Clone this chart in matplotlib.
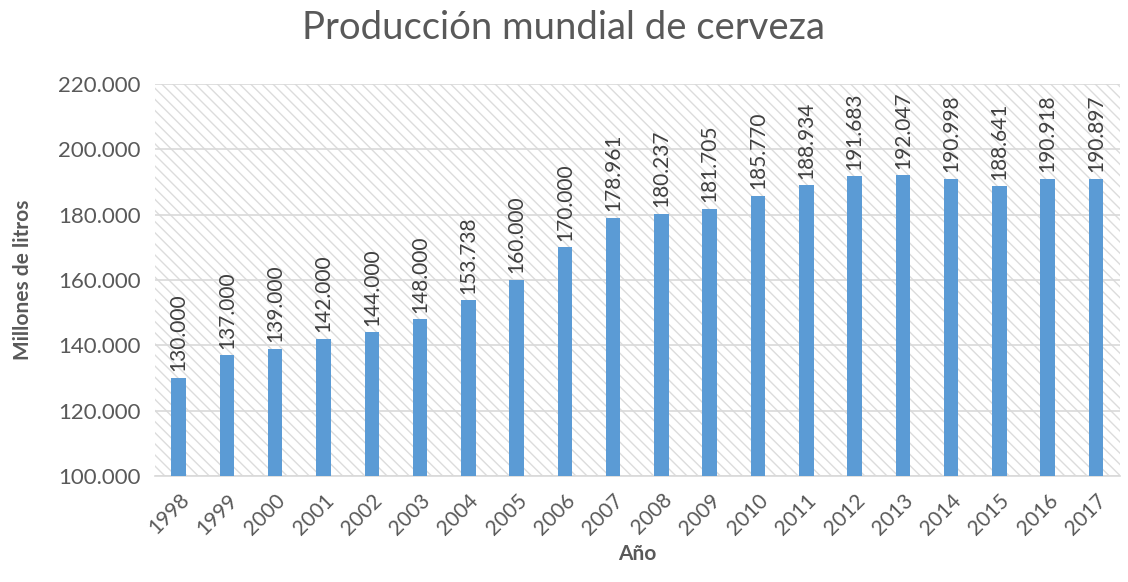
import numpy as np
import matplotlib.pyplot as plt
from matplotlib.patches import Rectangle

years = [str(y) for y in range(1998, 2018)]
values = [130000, 137000, 139000, 142000, 144000, 148000, 153738, 160000, 170000,
          178961, 180237, 181705, 185770, 188934, 191683, 192047, 190998, 188641,
          190918, 190897]
labels = ["130.000", "137.000", "139.000", "142.000", "144.000", "148.000", "153.738",
          "160.000", "170.000", "178.961", "180.237", "181.705", "185.770", "188.934",
          "191.683", "192.047", "190.998", "188.641", "190.918", "190.897"]
yticks = [100000, 120000, 140000, 160000, 180000, 200000, 220000]

plt.rcParams['font.family'] = ['Lato', 'DejaVu Sans']
plt.rcParams['hatch.linewidth'] = 1.0
txt = '#595959'

fig = plt.figure(figsize=(11.28, 5.82), dpi=100)
ax = fig.add_axes([0.137, 0.182, 0.856, 0.674])

# hatched plot background
ax.add_patch(Rectangle((0, 0), 1, 1, transform=ax.transAxes, facecolor='white',
                       edgecolor='#dcdcdc', linewidth=0, hatch='\\\\\\', zorder=0))

x = np.arange(len(years))
ax.bar(x, values, width=0.3, color='#5B9BD5', zorder=3)
for xi, v, lab in zip(x, values, labels):
    ax.text(xi, v + 2000, lab, rotation=90, ha='center', va='bottom',
            fontsize=15, color='#404040', zorder=4)

ax.set_ylim(100000, 220000)
ax.set_xlim(-0.5, len(years) - 0.5)
ax.set_yticks(yticks)
ax.set_yticklabels([f"{t // 1000}.000" for t in yticks], fontsize=16, color=txt)
ax.set_xticks(x)
ax.set_xticklabels(years, rotation=45, ha='right', rotation_mode='anchor',
                   fontsize=15, color=txt)
ax.tick_params(length=0, pad=10)
ax.grid(axis='y', color='#d9d9d9', linewidth=1.2, zorder=1)
for s in ['top', 'right', 'left']:
    ax.spines[s].set_visible(False)
ax.spines['bottom'].set_color('#d9d9d9')
ax.spines['bottom'].set_linewidth(1.2)

ax.set_ylabel('Millones de litros', fontsize=15, fontweight='bold', color=txt, labelpad=18)
ax.set_xlabel('Año', fontsize=15, fontweight='bold', color=txt, labelpad=4)
fig.text(0.5, 0.952, 'Producción mundial de cerveza', ha='center', va='center',
         fontsize=27.5, color=txt)

fig.savefig('out.png', dpi=100)
